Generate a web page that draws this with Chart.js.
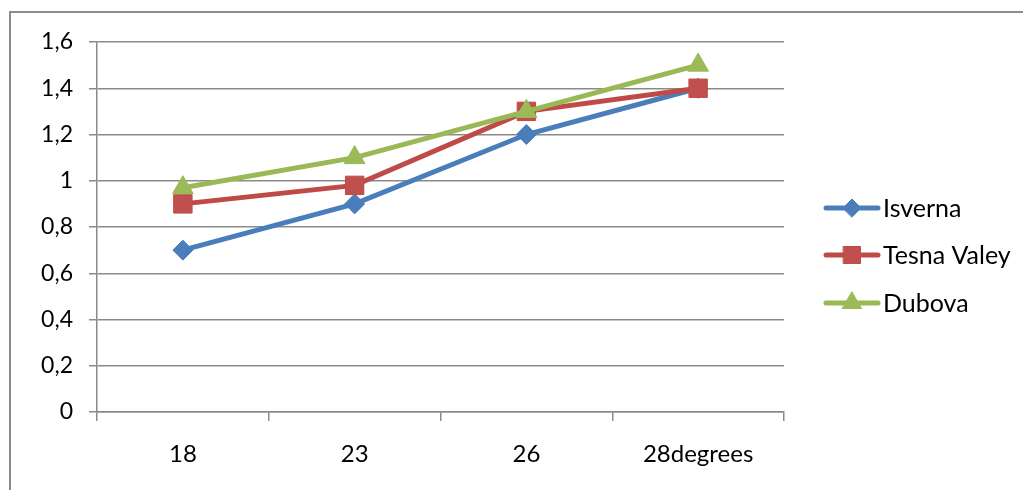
<!DOCTYPE html>
<html>
<head>
<meta charset="utf-8">
<script src="https://cdn.jsdelivr.net/npm/chart.js@4.4.1/dist/chart.umd.min.js"></script>
<style>
  body { margin: 0; background: #fff; }
  #wrap { width: 1023px; height: 490px; }
</style>
</head>
<body>
<div id="wrap"><canvas id="temps" width="1023" height="490"></canvas></div>
<script>
// data
const categories = ['18', '23', '26', '28degrees'];
const isverna = [0.7, 0.9, 1.2, 1.4];
const tesnaValey = [0.9, 0.98, 1.3, 1.4];
const dubova = [0.97, 1.1, 1.3, 1.5];
const yTickLabels = ['0', '0,2', '0,4', '0,6', '0,8', '1', '1,2', '1,4', '1,6'];

const FONT = 'Lato, "Open Sans", sans-serif';
const GRID = '#8a8a8a';

// outer frame of the chart object (it runs off the right and bottom)
const framePlugin = {
    id: 'frame',
    beforeDraw(chart) {
        const ctx = chart.ctx;
        ctx.save();
        ctx.strokeStyle = '#8c8c8c';
        ctx.lineWidth = 2;
        ctx.beginPath();
        ctx.moveTo(10, 520);
        ctx.lineTo(10, 12);
        ctx.lineTo(1040, 12);
        ctx.stroke();
        ctx.restore();
    }
};

// excel style legend: line with marker in the middle
const legendPlugin = {
    id: 'sideLegend',
    afterDraw(chart) {
        const ctx = chart.ctx;
        const rows = [208, 255, 303];
        chart.data.datasets.forEach((ds, i) => {
            const y = rows[i];
            ctx.save();
            ctx.strokeStyle = ds.borderColor;
            ctx.lineWidth = 5;
            ctx.lineCap = 'round';
            ctx.beginPath();
            ctx.moveTo(826, y);
            ctx.lineTo(878, y);
            ctx.stroke();
            ctx.fillStyle = ds.backgroundColor;
            ctx.strokeStyle = ds.borderColor;
            ctx.lineWidth = 1;
            Chart.helpers.drawPoint(ctx, {
                pointStyle: ds.pointStyle,
                radius: ds.pointRadius - 1,
                borderWidth: 1
            }, 852, y);
            ctx.fillStyle = '#000';
            ctx.font = '25px ' + FONT;
            ctx.textBaseline = 'middle';
            ctx.textAlign = 'left';
            ctx.fillText(ds.label, 883, y + 1);
            ctx.restore();
        });
    }
};

new Chart(document.getElementById('temps').getContext('2d'), {
    type: 'line',
    data: {
        labels: categories,
        datasets: [{
            label: 'Isverna',
            data: isverna,
            borderColor: '#4a7ebb',
            backgroundColor: '#4a7ebb',
            pointStyle: 'rectRot',
            pointRadius: 10,
            order: 3
        }, {
            label: 'Tesna Valey',
            data: tesnaValey,
            borderColor: '#be4b48',
            backgroundColor: '#c0504d',
            pointStyle: 'rect',
            pointRadius: 13,
            order: 2
        }, {
            label: 'Dubova',
            data: dubova,
            borderColor: '#98b954',
            backgroundColor: '#9bbb59',
            pointStyle: 'triangle',
            pointRadius: 12,
            order: 1
        }].map(d => Object.assign({
            borderWidth: 5,
            pointBorderWidth: 1,
            pointHoverRadius: d.pointRadius,
            tension: 0,
            fill: false
        }, d))
    },
    options: {
        responsive: false,
        animation: false,
        layout: { padding: { left: 0, top: 42, right: 239, bottom: 18 } },
        plugins: {
            legend: { display: false },
            tooltip: { enabled: false }
        },
        scales: {
            x: {
                offset: true,
                grid: {
                    offset: true,
                    drawOnChartArea: false,
                    drawTicks: true,
                    tickLength: 9,
                    color: GRID,
                    lineWidth: 1.5
                },
                border: { color: GRID, width: 1.5 },
                ticks: {
                    color: '#000',
                    font: { family: FONT, size: 24 },
                    padding: 19,
                    maxRotation: 0
                },
                afterFit(scale) { scale.height = 60; }
            },
            y: {
                min: 0,
                max: 1.6,
                ticks: {
                    stepSize: 0.2,
                    color: '#000',
                    font: { family: FONT, size: 23 },
                    padding: 16,
                    callback: (v, i) => yTickLabels[i]
                },
                grid: {
                    color: GRID,
                    lineWidth: 1.5,
                    tickLength: 8
                },
                border: { color: GRID, width: 1.5 },
                afterFit(scale) { scale.width = 97; }
            }
        }
    },
    plugins: [framePlugin, legendPlugin]
});
</script>
</body>
</html>
